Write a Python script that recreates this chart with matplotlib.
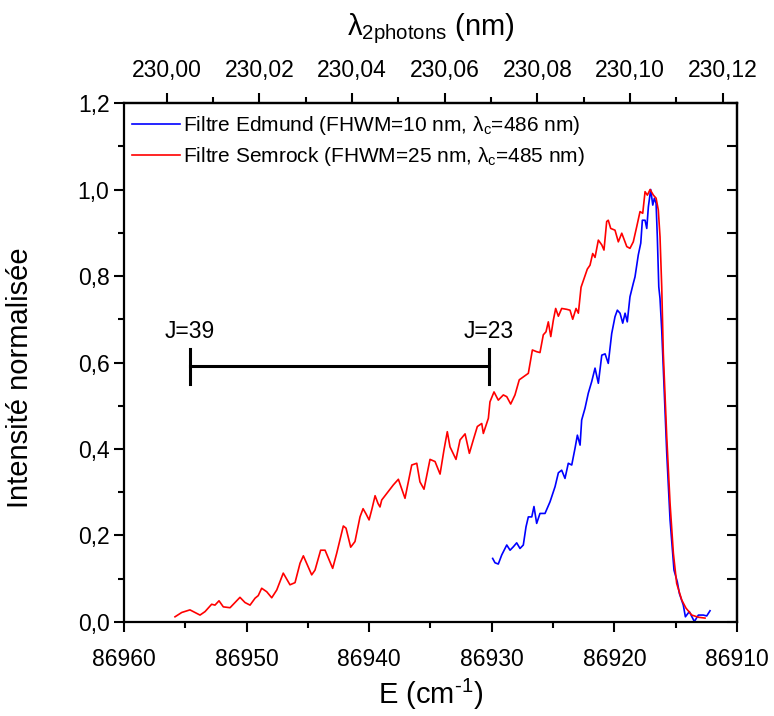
import matplotlib
matplotlib.use('Agg')
import matplotlib.pyplot as plt
from matplotlib.ticker import MultipleLocator, FixedLocator, FuncFormatter

plt.rcParams['font.family'] = ['Liberation Sans', 'DejaVu Sans']
plt.rcParams['mathtext.fontset'] = 'custom'
plt.rcParams['mathtext.rm'] = 'Liberation Sans'
plt.rcParams['mathtext.it'] = 'Liberation Sans:italic'

# Semrock filter (red), E in cm-1, normalised intensity
semrock_E = [86955.84, 86955.29, 86954.62, 86954.21, 86953.80, 86953.39, 86952.85, 86952.58,
             86952.25, 86951.90, 86951.35, 86950.54, 86950.13, 86949.72, 86949.31, 86949.05,
             86948.77, 86948.36, 86947.95, 86947.54, 86947.01, 86946.46, 86946.05, 86945.64,
             86945.37, 86944.69, 86944.42, 86943.96, 86943.60, 86942.98, 86942.65, 86942.11,
             86941.89, 86941.51, 86941.16, 86940.75, 86940.50, 86940.26, 86940.01, 86939.77,
             86939.52, 86939.28, 86939.12, 86938.98, 86938.03, 86937.62, 86937.08,
             86936.53, 86936.12, 86935.86, 86935.53, 86935.04, 86934.63, 86934.22, 86933.90,
             86933.63, 86933.41, 86932.92, 86932.59, 86932.18, 86931.83, 86931.51, 86931.18,
             86930.82, 86930.69, 86930.28, 86930.15, 86929.82, 86929.47, 86929.06, 86928.78,
             86928.46, 86928.11, 86927.76, 86927.02, 86926.69, 86926.34, 86926.07, 86925.80,
             86925.58, 86925.39, 86925.19, 86924.98, 86924.79, 86924.57, 86924.30, 86923.89,
             86923.62, 86923.40, 86923.13, 86922.94, 86922.72, 86922.21, 86921.99, 86921.77,
             86921.58, 86921.31, 86921.03, 86920.85, 86920.63, 86920.50, 86920.30, 86919.95,
             86919.68, 86919.40, 86918.99, 86918.73, 86918.46, 86918.18, 86917.91, 86917.69,
             86917.50, 86917.31, 86917.09, 86916.82, 86916.60, 86916.42, 86916.28, 86916.14,
             86916.01, 86915.73, 86915.46, 86915.19, 86914.92, 86914.51, 86914.16, 86913.69,
             86913.15, 86912.61]
semrock_I = [0.012, 0.022, 0.028, 0.022, 0.016, 0.024, 0.041, 0.039,
             0.049, 0.035, 0.033, 0.057, 0.045, 0.039, 0.055, 0.061,
             0.078, 0.070, 0.056, 0.074, 0.113, 0.086, 0.091, 0.136,
             0.153, 0.109, 0.120, 0.166, 0.166, 0.124, 0.159, 0.222,
             0.217, 0.173, 0.186, 0.243, 0.262, 0.250, 0.236, 0.262,
             0.292, 0.274, 0.266, 0.282, 0.317, 0.330, 0.286,
             0.363, 0.367, 0.324, 0.307, 0.376, 0.371, 0.342, 0.398,
             0.440, 0.405, 0.376, 0.421, 0.435, 0.390, 0.421, 0.452,
             0.459, 0.436, 0.471, 0.509, 0.532, 0.513, 0.525, 0.521,
             0.504, 0.525, 0.560, 0.575, 0.629, 0.625, 0.623, 0.664,
             0.671, 0.694, 0.660, 0.698, 0.725, 0.707, 0.725, 0.723,
             0.721, 0.700, 0.725, 0.714, 0.774, 0.816, 0.825, 0.852,
             0.843, 0.883, 0.872, 0.860, 0.926, 0.929, 0.910, 0.906,
             0.879, 0.899, 0.868, 0.864, 0.879, 0.914, 0.949, 0.945,
             0.995, 0.987, 1.000, 0.987, 0.980, 0.953, 0.891, 0.775,
             0.621, 0.428, 0.274, 0.159, 0.089, 0.051, 0.032, 0.016,
             0.011, 0.009]

# Edmund filter (blue)
edmund_E = [86929.93, 86929.74, 86929.47, 86929.19, 86928.78, 86928.51, 86928.24, 86927.97,
            86927.70, 86927.43, 86927.21, 86927.02, 86926.74, 86926.56, 86926.34, 86926.07,
            86925.66, 86925.25, 86924.84, 86924.57, 86924.30, 86924.03, 86923.76, 86923.48,
            86923.21, 86923.02, 86922.80, 86922.67, 86922.40, 86922.13, 86921.85, 86921.58,
            86921.31, 86921.03, 86920.76, 86920.50, 86920.22, 86919.95, 86919.76, 86919.54,
            86919.32, 86919.13, 86918.95, 86918.73, 86918.46, 86918.32, 86918.05, 86917.85,
            86917.72, 86917.50, 86917.36, 86917.23, 86917.04, 86916.87, 86916.74, 86916.60,
            86916.50, 86916.38, 86916.28, 86916.14, 86915.95, 86915.73, 86915.46, 86915.14,
            86914.87, 86914.70, 86914.38, 86914.21, 86913.89, 86913.48, 86913.15, 86912.75,
            86912.47, 86912.20]
edmund_I = [0.147, 0.137, 0.134, 0.155, 0.178, 0.166, 0.174, 0.183,
            0.170, 0.178, 0.220, 0.243, 0.243, 0.267, 0.228, 0.251,
            0.251, 0.278, 0.313, 0.345, 0.351, 0.332, 0.367, 0.363,
            0.402, 0.432, 0.409, 0.467, 0.494, 0.529, 0.556, 0.587,
            0.552, 0.617, 0.620, 0.598, 0.667, 0.706, 0.721, 0.714,
            0.691, 0.714, 0.694, 0.752, 0.783, 0.798, 0.849, 0.876,
            0.929, 0.929, 0.910, 0.960, 1.000, 0.964, 0.980, 0.968,
            0.891, 0.775, 0.748, 0.675, 0.544, 0.390, 0.236, 0.120,
            0.093, 0.066, 0.039, 0.012, 0.024, 0.001, 0.016, 0.016,
            0.014, 0.026]

# J range marker
j_labels = ['J=39', 'J=23']
j_E = [86954.62, 86930.23]
j_level = 0.592

# top axis ticks (nm)
lambda_major = [230.00, 230.02, 230.04, 230.06, 230.08, 230.10, 230.12]
lambda_minor = [230.01, 230.03, 230.05, 230.07, 230.09, 230.11]

fig = plt.figure(figsize=(7.74, 7.16), dpi=100)
ax = fig.add_axes([0.1602, 0.1313, 0.792, 0.7248])

ax.plot(edmund_E, edmund_I, color='#0000ff', lw=1.2,
        label='Filtre Edmund (FHWM=10 nm, λ$_\\mathrm{c}$=486 nm)')
ax.plot(semrock_E, semrock_I, color='#ff0000', lw=1.2,
        label='Filtre Semrock (FHWM=25 nm, λ$_\\mathrm{c}$=485 nm)')

# J=39 .. J=23 bar
ax.plot(j_E, [j_level, j_level], color='black', lw=2.2)
for e, lab in zip(j_E, j_labels):
    ax.plot([e, e], [j_level - 0.042, j_level + 0.04], color='black', lw=2.2)
    ax.text(e, j_level + 0.065, lab, ha='center', va='baseline', fontsize=16.5)

ax.set_xlim(86960, 86910)
ax.set_ylim(0, 1.2)
ax.xaxis.set_major_locator(MultipleLocator(10))
ax.xaxis.set_minor_locator(MultipleLocator(5))
ax.yaxis.set_major_locator(MultipleLocator(0.2))
ax.yaxis.set_minor_locator(MultipleLocator(0.1))
ax.yaxis.set_major_formatter(FuncFormatter(lambda v, p: f'{v:.1f}'.replace('.', ',')))
ax.xaxis.set_major_formatter(FuncFormatter(lambda v, p: f'{v:.0f}'))

for s in ax.spines.values():
    s.set_linewidth(1.6)
ax.tick_params(which='major', direction='out', length=7, width=1.5, labelsize=16.5)
ax.tick_params(which='minor', direction='out', length=4, width=1.5)
ax.tick_params(axis='x', which='both', top=False)
ax.tick_params(axis='x', pad=12)

ax.set_xlabel('E (cm$^{\\text{-1}}$)', fontsize=21, labelpad=4)
ax.set_ylabel('Intensité normalisée', fontsize=21)
ax.yaxis.set_label_coords(-0.146, 0.47)

# right spine ticks pointing in
axr = ax.secondary_yaxis('right')
axr.yaxis.set_major_locator(MultipleLocator(0.1))
axr.tick_params(direction='in', length=7, width=1.5, labelright=False)
axr.spines['right'].set_linewidth(1.6)

# top axis: two-photon wavelength
axt = ax.secondary_xaxis('top', functions=(lambda E: 2e7 / E, lambda l: 2e7 / l))
axt.xaxis.set_major_locator(FixedLocator(lambda_major))
axt.xaxis.set_minor_locator(FixedLocator(lambda_minor))
axt.xaxis.set_major_formatter(FuncFormatter(lambda v, p: f'{v:.2f}'.replace('.', ',')))
axt.tick_params(which='major', direction='out', length=7, width=1.5, labelsize=16.5, pad=8)
axt.tick_params(which='minor', direction='out', length=4, width=1.5)
axt.spines['top'].set_linewidth(1.6)
axt.set_xlabel('λ$_\\mathrm{2photons}$ (nm)', fontsize=21, labelpad=17)

ax.legend(loc='upper left', bbox_to_anchor=(0.0, 0.995), frameon=False, fontsize=15,
          handlelength=2.3, handletextpad=0.15, borderpad=0.1, borderaxespad=0.3,
          labelspacing=0.4)

fig.savefig('out.png', dpi=100)
